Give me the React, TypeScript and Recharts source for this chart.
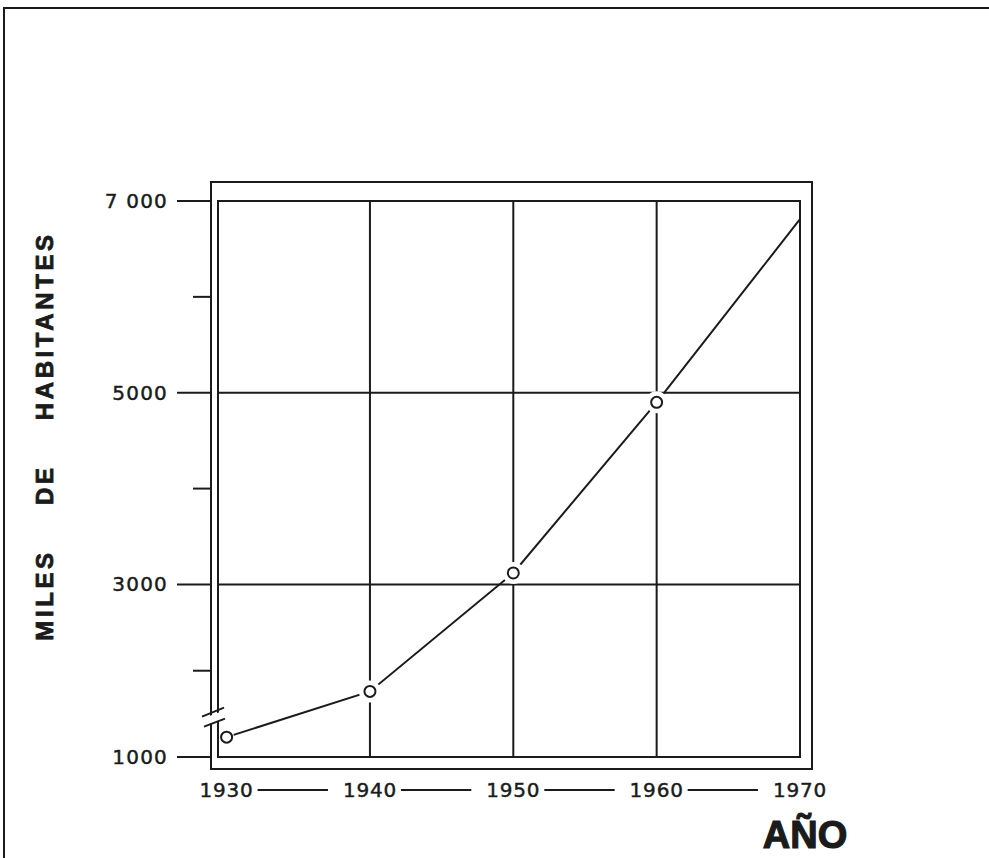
import React from 'react';
import { LineChart, Line, XAxis, YAxis, ReferenceLine, ReferenceArea, ReferenceDot } from 'recharts';

// ---- data ----
const years = [1930, 1940, 1950, 1960, 1970];
const population = [1230, 1760, 3120, 4900, 6810]; // miles de habitantes
const hasMarker = [true, true, true, true, false];
const xTicks = [1930, 1940, 1950, 1960, 1970];
const xTickLabels = ['1930', '1940', '1950', '1960', '1970'];
const yTicks = [1000, 2000, 3000, 4000, 5000, 6000, 7000];
const yTickLabels = ['1000', '', '3000', '', '5000', '', '7 000'];
const xGridYears = [1940, 1950, 1960];
const yGridValues = [3000, 5000];
const X_DOMAIN = [1929.4, 1970];
const Y_DOMAIN = [1000, 7000];
const BREAK_VALUE = 3000; // axis is compressed below this value (broken axis)
const BREAK_FACTOR = 0.9;
const BREAK_MARK_AT = 1480;

const data = years.map((year, i) => ({ year, population: population[i], marker: hasMarker[i] }));

// ---- layout / style ----
const W = 989;
const H = 858;
const MARGIN = { top: 201, right: 189, bottom: 0, left: 0 };
const Y_AXIS_W = 218;
const X_AXIS_H = 101;
const PLOT_W = W - MARGIN.left - MARGIN.right - Y_AXIS_W;
const X_STEP = (10 * PLOT_W) / (X_DOMAIN[1] - X_DOMAIN[0]);
const INK = '#1b1b1b';
const TICK_FONT = '"DejaVu Sans", "Liberation Sans", sans-serif';
const BOLD_FONT = '"Liberation Sans", Arial, sans-serif';

// piecewise-linear scale for the broken y axis
function brokenScale(): any {
  let d: number[] = [0, 1];
  let r: number[] = [0, 1];
  const warp = (v: number) => (v < BREAK_VALUE ? BREAK_VALUE - (BREAK_VALUE - v) * BREAK_FACTOR : v);
  const unwarp = (w: number) => (w < BREAK_VALUE ? BREAK_VALUE - (BREAK_VALUE - w) / BREAK_FACTOR : w);
  const s: any = (v: number) => {
    const w0 = warp(d[0]);
    const w1 = warp(d[d.length - 1]);
    const r0 = r[0];
    const r1 = r[r.length - 1];
    return r0 + ((warp(Number(v)) - w0) / (w1 - w0)) * (r1 - r0);
  };
  s.domain = (x?: any) => {
    if (x === undefined) return d.slice();
    d = Array.from(x as number[]).map(Number);
    return s;
  };
  s.range = (x?: any) => {
    if (x === undefined) return r.slice();
    r = Array.from(x as number[]).map(Number);
    return s;
  };
  s.invert = (px: number) => {
    const w0 = warp(d[0]);
    const w1 = warp(d[d.length - 1]);
    const r0 = r[0];
    const r1 = r[r.length - 1];
    return unwarp(w0 + ((px - r0) / (r1 - r0)) * (w1 - w0));
  };
  s.copy = () => brokenScale().domain(d).range(r);
  s.ticks = () => yTicks.slice();
  s.tickFormat = () => (v: any) => String(v);
  s.nice = () => s;
  s.clamp = () => s;
  return s;
}

const YTick = (props: any) => {
  const { x, y, payload } = props;
  const i = yTicks.indexOf(payload.value);
  const label = i >= 0 ? yTickLabels[i] : '';
  const major = label !== '';
  return (
    <g>
      <line x1={x - (major ? 41 : 25)} x2={x - 8} y1={y} y2={y} stroke={INK} strokeWidth={2} />
      {major && (
        <text
          x={x - 50}
          y={y}
          textAnchor="end"
          dominantBaseline="central"
          fontFamily={TICK_FONT}
          fontSize={20}
          letterSpacing={1.2}
          fill={INK}
          stroke={INK}
          strokeWidth={0.45}
        >
          {label}
        </text>
      )}
    </g>
  );
};

const XTick = (props: any) => {
  const { x, y, payload } = props;
  const i = xTicks.indexOf(payload.value);
  const label = i >= 0 ? xTickLabels[i] : '';
  const last = i === xTicks.length - 1;
  return (
    <g>
      <text
        x={x}
        y={y + 33}
        textAnchor="middle"
        dominantBaseline="central"
        fontFamily={TICK_FONT}
        fontSize={20}
        letterSpacing={0.8}
        fill={INK}
        stroke={INK}
        strokeWidth={0.45}
      >
        {label}
      </text>
      {!last && (
        <line x1={x + 31} x2={x + X_STEP - 42} y1={y + 33} y2={y + 33} stroke={INK} strokeWidth={2} />
      )}
    </g>
  );
};

const FrameShape = (props: any) => {
  const { x, y, width, height } = props;
  return (
    <g>
      <rect x={x} y={y} width={width} height={height} fill="none" stroke={INK} strokeWidth={2} />
      <rect x={x - 7} y={y - 19} width={width + 19} height={height + 31} fill="none" stroke={INK} strokeWidth={2} />
    </g>
  );
};

const BreakShape = (props: any) => {
  const { cx, cy } = props;
  return (
    <g>
      <polygon
        points={`${cx - 15},${cy + 3} ${cx + 6},${cy - 5} ${cx + 6},${cy + 4} ${cx - 15},${cy + 10}`}
        fill="#fff"
      />
      <line x1={cx - 16} y1={cy + 1} x2={cx + 6} y2={cy - 8} stroke={INK} strokeWidth={2} />
      <line x1={cx - 14} y1={cy + 11} x2={cx + 7} y2={cy + 3} stroke={INK} strokeWidth={2} />
    </g>
  );
};

const PointDot = (props: any) => {
  const { cx, cy, payload, index } = props;
  if (!payload || !payload.marker || cx == null || cy == null) return <g key={`d${index}`} />;
  return (
    <g key={`d${index}`}>
      <circle cx={cx} cy={cy} r={index === 0 ? 7.5 : 11} fill="#fff" />
      <circle cx={cx} cy={cy} r={5.5} fill="#fff" stroke={INK} strokeWidth={2} />
    </g>
  );
};

const YLabel = (props: any) => {
  const vb = props.viewBox || { x: 0, y: MARGIN.top, width: Y_AXIS_W, height: 556 };
  const cx = vb.x + 44;
  const cy = vb.y + 235;
  return (
    <text
      x={cx}
      y={cy}
      transform={`rotate(-90 ${cx} ${cy})`}
      textAnchor="middle"
      dominantBaseline="central"
      fontFamily={BOLD_FONT}
      fontWeight={700}
      fontSize={24}
      letterSpacing={3.6}
      wordSpacing={34}
      fill={INK}
      stroke={INK}
      strokeWidth={0.8}
    >
      MILES DE HABITANTES
    </text>
  );
};

const XLabel = (props: any) => {
  const vb = props.viewBox || { x: Y_AXIS_W, y: H - X_AXIS_H, width: PLOT_W, height: X_AXIS_H };
  return (
    <text
      x={vb.x + vb.width + 5}
      y={vb.y + 91}
      textAnchor="middle"
      fontFamily={BOLD_FONT}
      fontWeight={700}
      fontSize={38}
      fill={INK}
      stroke={INK}
      strokeWidth={1.2}
    >
      AÑO
    </text>
  );
};

const yScale = brokenScale();

export default function App() {
  return (
    <div style={{ position: 'absolute', top: 0, left: 0, width: W, height: H, background: '#fff', overflow: 'hidden' }}>
      <div
        style={{
          position: 'absolute',
          left: 3,
          top: 7,
          right: 0,
          bottom: 0,
          borderLeft: `2px solid ${INK}`,
          borderTop: `2px solid ${INK}`,
        }}
      />
      <div style={{ position: 'absolute', top: 0, left: 0 }}>
        <LineChart width={W} height={H} data={data} margin={MARGIN}>
          <XAxis
            dataKey="year"
            type="number"
            domain={X_DOMAIN}
            ticks={xTicks}
            interval={0}
            allowDataOverflow
            axisLine={false}
            tickLine={false}
            tickSize={0}
            tickMargin={0}
            height={X_AXIS_H}
            tick={<XTick />}
            label={<XLabel />}
          />
          <YAxis
            type="number"
            domain={Y_DOMAIN}
            scale={yScale}
            ticks={yTicks}
            interval={0}
            allowDataOverflow
            axisLine={false}
            tickLine={false}
            tickSize={0}
            tickMargin={0}
            width={Y_AXIS_W}
            tick={<YTick />}
            label={<YLabel />}
          />
          <ReferenceArea
            x1={X_DOMAIN[0]}
            x2={X_DOMAIN[1]}
            y1={Y_DOMAIN[0]}
            y2={Y_DOMAIN[1]}
            shape={<FrameShape />}
            ifOverflow="visible"
            zIndex={40}
          />
          {xGridYears.map((v) => (
            <ReferenceLine key={`gx${v}`} x={v} stroke={INK} strokeWidth={2} zIndex={50} />
          ))}
          {yGridValues.map((v) => (
            <ReferenceLine key={`gy${v}`} y={v} stroke={INK} strokeWidth={2} zIndex={50} />
          ))}
          <ReferenceDot x={X_DOMAIN[0]} y={BREAK_MARK_AT} shape={<BreakShape />} ifOverflow="visible" zIndex={60} />
          <Line
            type="linear"
            dataKey="population"
            stroke={INK}
            strokeWidth={2}
            dot={<PointDot />}
            activeDot={false}
            isAnimationActive={false}
            zIndex={400}
          />
        </LineChart>
      </div>
    </div>
  );
}
